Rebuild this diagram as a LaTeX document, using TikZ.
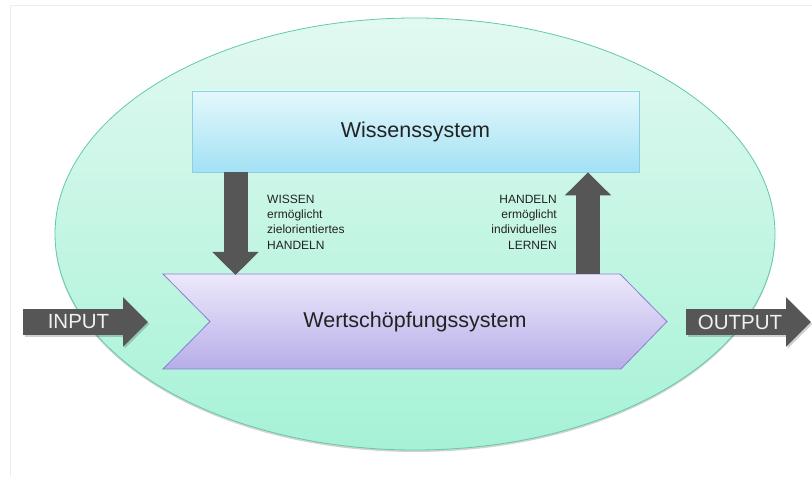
\documentclass[tikz,border=0pt]{standalone}
\usepackage{fontspec}
\setmainfont{Liberation Sans}
\usetikzlibrary{shapes.geometric,arrows.meta,shadows}

\definecolor{envTop}{HTML}{E2F9F1}
\definecolor{envBot}{HTML}{A6F2D6}
\definecolor{envLine}{HTML}{62C9A9}
\definecolor{boxTop}{HTML}{E4F8FC}
\definecolor{boxBot}{HTML}{A2E1F4}
\definecolor{boxLine}{HTML}{8CCFE0}
\definecolor{chevTop}{HTML}{EDE9FB}
\definecolor{chevBot}{HTML}{B7ADE9}
\definecolor{chevLine}{HTML}{8A7FD0}
\definecolor{arrowGray}{HTML}{565656}
\definecolor{labelInk}{HTML}{222222}

\tikzset{
  envelope/.style={ellipse, draw=envLine, line width=0.8pt,
    top color=envTop, bottom color=envBot,
    minimum width=720pt, minimum height=432pt, inner sep=0pt,
    drop shadow={opacity=0.35, shadow xshift=0pt, shadow yshift=-2pt}},
  knowbox/.style={rectangle, draw=boxLine, line width=0.8pt,
    top color=boxTop, bottom color=boxBot,
    minimum width=447pt, minimum height=81pt, inner sep=0pt,
    font=\fontsize{21.5}{26}\selectfont, text=labelInk,
    drop shadow={opacity=0.25, shadow xshift=1pt, shadow yshift=-1.5pt}},
  chevron/.style={draw=chevLine, line width=0.8pt,
    top color=chevTop, bottom color=chevBot},
  flowarrow/.style={draw=arrowGray, line width=24pt,
    -{Triangle[width=45pt,length=23pt]}},
  ioarrow/.style={draw=arrowGray, line width=26pt,
    -{Triangle[width=48pt,length=25pt]}},
  ioshadow/.style={draw=black, opacity=0.18, line width=26pt,
    -{Triangle[width=48pt,length=25pt]}},
  iotext/.style={font=\fontsize{20.5}{24}\selectfont, text=white!94!black, inner sep=0pt},
  smalltext/.style={font=\fontsize{12}{15.3}\selectfont, text=labelInk, inner sep=0pt},
}

\begin{document}
\begin{tikzpicture}[x=1pt,y=1pt]
  \useasboundingbox (0,0) rectangle (812,477);
  \fill[white] (0,0) rectangle (812,477);
  % faint frame of the slide
  \draw[black!7, line width=0.8pt] (10,0) -- (10,472) -- (812,472);

  % surrounding system
  \node[envelope] (env) at (415,243) {};

  % knowledge system
  \node[knowbox] (wissen) at (415.5,345.5) {Wissenssystem};

  % value chain (chevron)
  \path[chevron] (163,203) -- (620,203) -- (667,155.5) -- (621,108)
    -- (163,108) -- (210,155.5) -- cycle;
  \node[font=\fontsize{21.5}{26}\selectfont, text=labelInk, inner sep=0pt]
    (wert) at (415,155.5) {Wertschöpfungssystem};
  \coordinate (wertTopL) at (235.5,202);
  \coordinate (wertTopR) at (588,203);

  % exchange between the two systems
  \draw[flowarrow] (wissen.south -| wertTopL) -- (wertTopL);
  \draw[flowarrow] (wertTopR) -- (wissen.south -| wertTopR);

  \node[smalltext, anchor=west, align=left] (lblDown) at (267,255)
    {WISSEN\\ermöglicht\\zielorientiertes\\HANDELN};
  \node[smalltext, anchor=east, align=right] (lblUp) at (557,255)
    {HANDELN\\ermöglicht\\individuelles\\LERNEN};

  % input and output
  \coordinate (inStart) at (23,155);
  \coordinate (inEnd) at (148,155);
  \coordinate (outStart) at (686,155);
  \coordinate (outEnd) at (811,155);
  \draw[ioshadow] ([shift={(1.5,-2)}]inStart) -- ([shift={(1.5,-2)}]inEnd);
  \draw[ioshadow] ([shift={(1.5,-2)}]outStart) -- ([shift={(1.5,-2)}]outEnd);
  \draw[ioarrow] (inStart) -- (inEnd);
  \draw[ioarrow] (outStart) -- (outEnd);
  \node[iotext] (input) at (78.5,155) {INPUT};
  \node[iotext] (output) at (740,155) {OUTPUT};
\end{tikzpicture}
\end{document}
